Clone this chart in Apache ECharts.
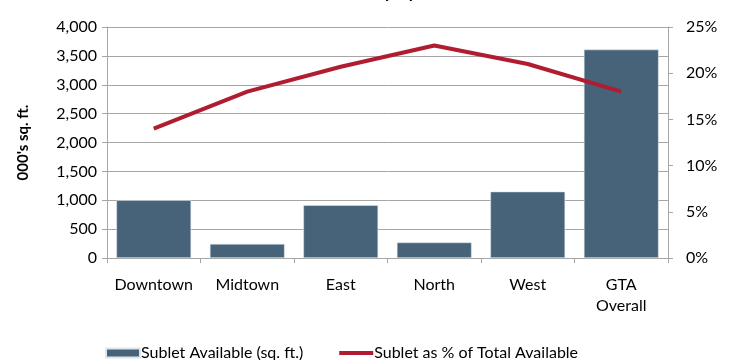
<!DOCTYPE html>
<html>
<head>
<meta charset="utf-8">
<script src="https://cdn.jsdelivr.net/npm/echarts@6/dist/echarts.min.js"></script>
<style>
  html, body { margin: 0; padding: 0; background: #fff; }
  #chart { width: 729px; height: 360px; }
</style>
</head>
<body>
<div id="chart"></div>
<script>
// categories and values
const markets = ['Downtown', 'Midtown', 'East', 'North', 'West', 'GTA\nOverall']
const subletSqFt = [1000, 245, 915, 270, 1150, 3610]      // 000's sq. ft.
const subletPct = [14.0, 18.0, 20.7, 23.0, 21.0, 18.0]     // % of total available
const leftTicks = [0, 500, 1000, 1500, 2000, 2500, 3000, 3500, 4000]
const rightTicks = [0, 5, 10, 15, 20, 25]

const barName = 'Sublet Available (sq. ft.)'
const lineName = 'Sublet as % of Total Available'
const fontFam = 'Lato, "Noto Sans", sans-serif'
const axisGrey = '#a6a6a6'

const chart = echarts.init(document.getElementById('chart'))

const option = {
  animation: false,
  textStyle: { fontFamily: fontFam },
  title: {
    text: 'Sublet Availability by Market',
    left: 'center',
    top: -22,
    textStyle: { fontSize: 18, fontWeight: 'bold', color: '#000', fontFamily: fontFam }
  },
  grid: { left: 107, right: 61, top: 27, bottom: 102 },
  legend: {
    left: 100,
    top: 340,
    itemGap: 36,
    itemWidth: 34,
    itemHeight: 9,
    textStyle: { fontSize: 16, color: '#000', padding: [0, 0, 0, -4] },
    data: [
      { name: barName, icon: 'rect' },
      { name: lineName, icon: 'path://M0,0 H34 V4 H0 Z' }
    ]
  },
  xAxis: {
    type: 'category',
    data: markets,
    axisLine: { lineStyle: { color: axisGrey } },
    axisTick: { show: true, length: 5, lineStyle: { color: axisGrey } },
    axisLabel: { color: '#000', fontSize: 16, margin: 16, lineHeight: 21, interval: 0 }
  },
  yAxis: [
    {
      type: 'value',
      min: leftTicks[0],
      max: leftTicks[leftTicks.length - 1],
      interval: 500,
      name: "000's sq. ft.",
      nameLocation: 'middle',
      nameGap: 76,
      nameRotate: 90,
      nameTextStyle: { fontSize: 15, fontWeight: 'bold', color: '#000' },
      axisLine: { show: true, lineStyle: { color: axisGrey } },
      axisTick: { show: true, length: 5, lineStyle: { color: axisGrey } },
      axisLabel: {
        color: '#000', fontSize: 16, margin: 10,
        formatter: v => v.toLocaleString('en-US')
      },
      splitLine: { show: true, lineStyle: { color: axisGrey, width: 1 } }
    },
    {
      type: 'value',
      min: rightTicks[0],
      max: rightTicks[rightTicks.length - 1],
      interval: 5,
      position: 'right',
      axisLine: { show: true, lineStyle: { color: axisGrey } },
      axisTick: { show: true, length: 5, lineStyle: { color: axisGrey } },
      axisLabel: { color: '#000', fontSize: 16, margin: 18, formatter: '{value}%' },
      splitLine: { show: false }
    }
  ],
  series: [
    {
      name: barName,
      type: 'bar',
      data: subletSqFt,
      yAxisIndex: 0,
      barCategoryGap: '20%',
      itemStyle: { color: '#466379', borderColor: '#dfe6ec', borderWidth: 0.6 }
    },
    {
      name: lineName,
      type: 'line',
      data: subletPct,
      yAxisIndex: 1,
      symbol: 'none',
      lineStyle: { color: '#b01c30', width: 4 },
      itemStyle: { color: '#b01c30' }
    }
  ]
}

chart.setOption(option)
</script>
</body>
</html>
